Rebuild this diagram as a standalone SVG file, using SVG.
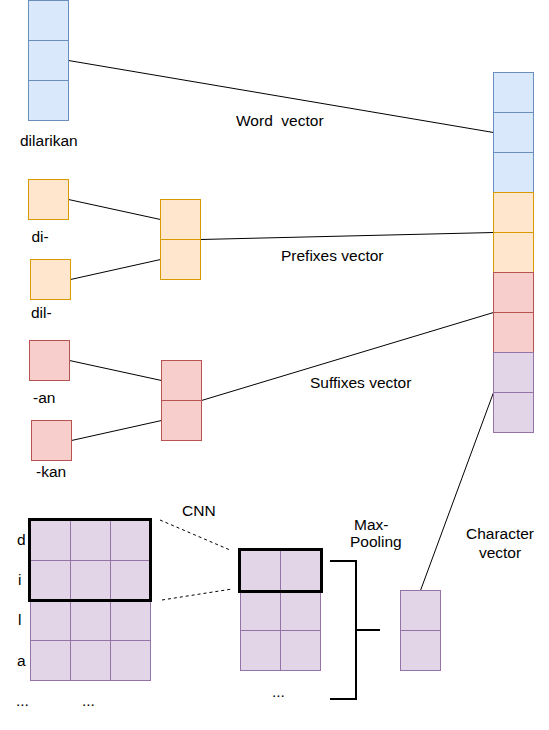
<svg xmlns="http://www.w3.org/2000/svg" width="549" height="730" viewBox="0 0 549 730">
<style>
text{font-family:"Liberation Sans",Arial,Helvetica,sans-serif;font-size:15.5px;fill:#000}
.b{fill:#dae8fc;stroke:#6c8ebf;stroke-width:1}
.o{fill:#ffe6cc;stroke:#d79b00;stroke-width:1}
.r{fill:#f8cecc;stroke:#b85450;stroke-width:1}
.p{fill:#e1d5e7;stroke:#9673a6;stroke-width:1}
.thick{fill:none;stroke:#000;stroke-width:3}
.ln{fill:none;stroke:#000;stroke-width:1}
.dash{fill:none;stroke:#000;stroke-width:1;stroke-dasharray:3 3}
.br{fill:none;stroke:#000;stroke-width:2}
</style>
<rect width="549" height="730" fill="#fff"/>
<g id="connectors">
<line class="ln" x1="68.5" y1="60.5" x2="493.5" y2="132.5"/>
<line class="ln" x1="68.5" y1="199.5" x2="160.5" y2="219.5"/>
<line class="ln" x1="70.5" y1="279.5" x2="160.5" y2="259.5"/>
<line class="ln" x1="200.5" y1="239.5" x2="493.5" y2="232.5"/>
<line class="ln" x1="69.5" y1="360.5" x2="161.5" y2="380.5"/>
<line class="ln" x1="71.5" y1="440.5" x2="161.5" y2="420.5"/>
<line class="ln" x1="201.5" y1="400.5" x2="493.5" y2="312.5"/>
<line class="ln" x1="420.5" y1="590.5" x2="493.5" y2="392.5"/>
<line class="dash" x1="160" y1="520" x2="230" y2="550"/>
<line class="dash" x1="162" y1="600" x2="232" y2="589"/>
<path class="br" d="M330,561 H356 V699 H330 M356,630 H380"/>
</g>
<g id="word-input">
<rect class="b" x="28.5" y="0.5" width="40" height="40"/>
<rect class="b" x="28.5" y="40.5" width="40" height="40"/>
<rect class="b" x="28.5" y="80.5" width="40" height="40"/>
<text x="20" y="146">dilarikan</text>
</g>
<g id="prefix-di">
<rect class="o" x="28.5" y="179.5" width="40" height="40"/>
<text x="31.5" y="242">di-</text>
</g>
<g id="prefix-dil">
<rect class="o" x="30.5" y="259.5" width="40" height="40"/>
<text x="31" y="318">dil-</text>
</g>
<g id="prefix-vector">
<rect class="o" x="160.5" y="199.5" width="40" height="40"/>
<rect class="o" x="160.5" y="239.5" width="40" height="40"/>
</g>
<g id="suffix-an">
<rect class="r" x="29.5" y="340.5" width="40" height="40"/>
<text x="33" y="403">-an</text>
</g>
<g id="suffix-kan">
<rect class="r" x="31.5" y="420.5" width="40" height="40"/>
<text x="36" y="477">-kan</text>
</g>
<g id="suffix-vector">
<rect class="r" x="161.5" y="360.5" width="40" height="40"/>
<rect class="r" x="161.5" y="400.5" width="40" height="40"/>
</g>
<g id="concat-vector">
<rect class="b" x="493.5" y="72.5" width="40" height="40"/>
<rect class="b" x="493.5" y="112.5" width="40" height="40"/>
<rect class="b" x="493.5" y="152.5" width="40" height="40"/>
<rect class="o" x="493.5" y="192.5" width="40" height="40"/>
<rect class="o" x="493.5" y="232.5" width="40" height="40"/>
<rect class="r" x="493.5" y="272.5" width="40" height="40"/>
<rect class="r" x="493.5" y="312.5" width="40" height="40"/>
<rect class="p" x="493.5" y="352.5" width="40" height="40"/>
<rect class="p" x="493.5" y="392.5" width="40" height="40"/>
</g>
<g id="labels">
<text x="236" y="126" xml:space="preserve">Word  vector</text>
<text x="281" y="261">Prefixes vector</text>
<text x="310" y="388">Suffixes vector</text>
<text x="182" y="516">CNN</text>
<text x="354" y="530">Max-</text>
<text x="350" y="547">Pooling</text>
<text x="500" y="539" text-anchor="middle">Character</text>
<text x="500" y="558" text-anchor="middle">vector</text>
</g>
<g id="char-matrix">
<rect class="p" x="30.5" y="520.5" width="40" height="40"/>
<rect class="p" x="70.5" y="520.5" width="40" height="40"/>
<rect class="p" x="110.5" y="520.5" width="40" height="40"/>
<rect class="p" x="30.5" y="560.5" width="40" height="40"/>
<rect class="p" x="70.5" y="560.5" width="40" height="40"/>
<rect class="p" x="110.5" y="560.5" width="40" height="40"/>
<rect class="p" x="30.5" y="600.5" width="40" height="40"/>
<rect class="p" x="70.5" y="600.5" width="40" height="40"/>
<rect class="p" x="110.5" y="600.5" width="40" height="40"/>
<rect class="p" x="30.5" y="640.5" width="40" height="40"/>
<rect class="p" x="70.5" y="640.5" width="40" height="40"/>
<rect class="p" x="110.5" y="640.5" width="40" height="40"/>
<rect class="thick" x="29.5" y="519.5" width="121" height="81"/>
<text x="17" y="545">d</text>
<text x="18" y="585">i</text>
<text x="18" y="625">l</text>
<text x="17" y="666">a</text>
<text x="16" y="706">...</text>
<text x="82" y="706">...</text>
</g>
<g id="feature-map">
<rect class="p" x="240.5" y="550.5" width="40" height="40"/>
<rect class="p" x="280.5" y="550.5" width="40" height="40"/>
<rect class="p" x="240.5" y="590.5" width="40" height="40"/>
<rect class="p" x="280.5" y="590.5" width="40" height="40"/>
<rect class="p" x="240.5" y="630.5" width="40" height="40"/>
<rect class="p" x="280.5" y="630.5" width="40" height="40"/>
<rect class="thick" x="239.5" y="549.5" width="82" height="42"/>
<text x="272" y="697">...</text>
</g>
<g id="char-vector">
<rect class="p" x="400.5" y="590.5" width="40" height="40"/>
<rect class="p" x="400.5" y="630.5" width="40" height="40"/>
</g>
</svg>
